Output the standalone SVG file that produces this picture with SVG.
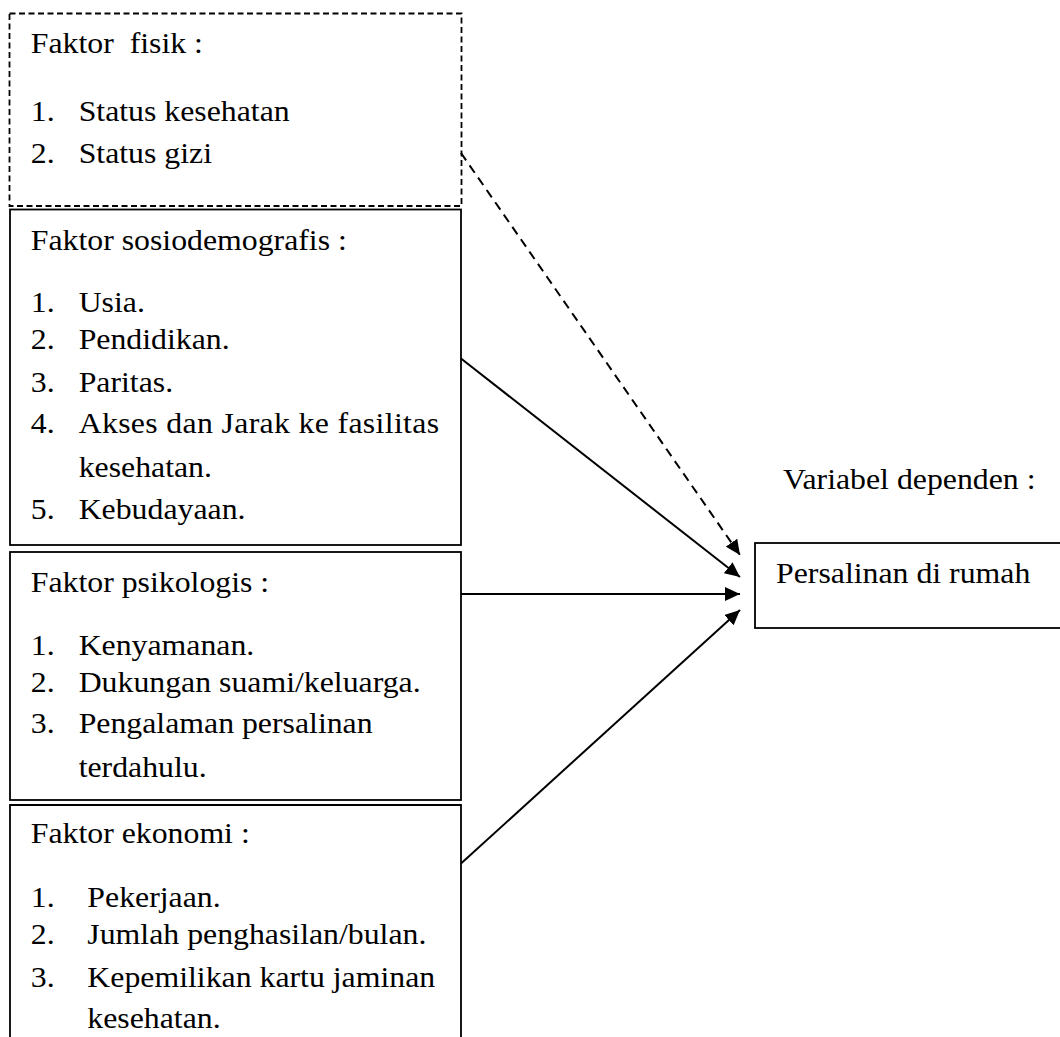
<svg xmlns="http://www.w3.org/2000/svg" width="1060" height="1037" viewBox="0 0 1060 1037">
<style>
.box{fill:#fff;stroke:#000;stroke-width:1.8}
.dash{stroke-dasharray:6 3.5}
.t{font-family:"Liberation Serif","Times New Roman",serif;font-size:30px;fill:#000;white-space:pre}
.c{stroke:#000;stroke-width:2;fill:none}
.cd{stroke-dasharray:9 6}
</style>
<defs>
<marker id="ah" markerUnits="userSpaceOnUse" markerWidth="16" markerHeight="14" refX="15" refY="7" orient="auto">
<path d="M0,0 L15,7 L0,14 z" fill="#000"/>
</marker>
</defs>
<rect width="1060" height="1037" fill="#fff"/>
<g id="n-fisik">
<rect class="box dash" x="9.5" y="13.5" width="452" height="192.5"/>
<g transform="scale(1.06,1)">
<text class="t" x="29" y="53" xml:space="preserve">Faktor  fisik :</text>
<text class="t" x="29" y="121.5">1.</text><text class="t" x="74.2" y="121.5">Status kesehatan</text>
<text class="t" x="29" y="163.3">2.</text><text class="t" x="74.2" y="163.3">Status gizi</text>
</g>
</g>
<g id="n-sosio">
<rect class="box" x="10" y="209.5" width="451" height="335.5"/>
<g transform="scale(1.06,1)">
<text class="t" x="29" y="250">Faktor sosiodemografis :</text>
<text class="t" x="29" y="311.7">1.</text><text class="t" x="74.2" y="311.7">Usia.</text>
<text class="t" x="29" y="349">2.</text><text class="t" x="74.2" y="349">Pendidikan.</text>
<text class="t" x="29" y="391.7">3.</text><text class="t" x="74.2" y="391.7">Paritas.</text>
<text class="t" x="29" y="433.3">4.</text><text class="t" x="74.2" y="433.3" textLength="340" lengthAdjust="spacing">Akses dan Jarak ke fasilitas</text>
<text class="t" x="74.2" y="476.7">kesehatan.</text>
<text class="t" x="29" y="519">5.</text><text class="t" x="74.2" y="519">Kebudayaan.</text>
</g>
</g>
<g id="n-psiko">
<rect class="box" x="10" y="552" width="451" height="248"/>
<g transform="scale(1.06,1)">
<text class="t" x="29" y="591.7">Faktor psikologis :</text>
<text class="t" x="29" y="655">1.</text><text class="t" x="74.2" y="655">Kenyamanan.</text>
<text class="t" x="29" y="691.7">2.</text><text class="t" x="74.2" y="691.7">Dukungan suami/keluarga.</text>
<text class="t" x="29" y="733.3">3.</text><text class="t" x="74.2" y="733.3">Pengalaman persalinan</text>
<text class="t" x="74.2" y="776.7">terdahulu.</text>
</g>
</g>
<g id="n-ekonomi">
<path class="box" d="M10,1040 L10,805 L461,805 L461,1040"/>
<g transform="scale(1.06,1)">
<text class="t" x="29" y="843.3">Faktor ekonomi :</text>
<text class="t" x="29" y="907.3">1.</text><text class="t" x="82.4" y="907.3">Pekerjaan.</text>
<text class="t" x="29" y="944">2.</text><text class="t" x="82.4" y="944">Jumlah penghasilan/bulan.</text>
<text class="t" x="29" y="986.7">3.</text><text class="t" x="82.4" y="986.7">Kepemilikan kartu jaminan</text>
<text class="t" x="82.4" y="1028.3">kesehatan.</text>
</g>
</g>
<g id="n-label">
<g transform="scale(1.06,1)">
<text class="t" x="738.7" y="489">Variabel dependen :</text>
</g>
</g>
<g id="n-persalinan">
<rect class="box" x="755" y="543" width="320" height="85"/>
<g transform="scale(1.06,1)">
<text class="t" x="732.1" y="583.3">Persalinan di rumah</text>
</g>
</g>
<g id="connectors">
<line class="c cd" x1="461" y1="153" x2="740" y2="555" marker-end="url(#ah)"/>
<line class="c" x1="461" y1="358.5" x2="740" y2="577" marker-end="url(#ah)"/>
<line class="c" x1="461" y1="594" x2="740" y2="594" marker-end="url(#ah)"/>
<line class="c" x1="461" y1="863.5" x2="740" y2="610" marker-end="url(#ah)"/>
</g>
</svg>
